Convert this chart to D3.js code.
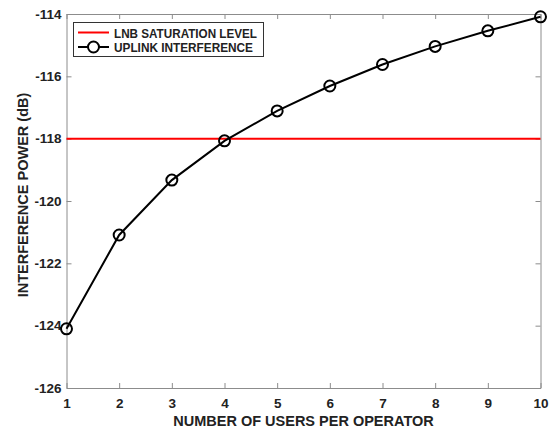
<!DOCTYPE html>
<html>
<head>
<meta charset="utf-8">
<script src="https://cdn.jsdelivr.net/npm/d3@7"></script>
<style>
  html, body { margin: 0; padding: 0; background: #fff; }
  svg { display: block; }
  text { font-family: "Liberation Sans", Arial, Helvetica, sans-serif; font-weight: bold; fill: #222; }
</style>
</head>
<body>
<svg id="chart" width="553" height="430"></svg>
<script>
// Users per operator and the resulting uplink interference (dB)
const users = [1, 2, 3, 4, 5, 6, 7, 8, 9, 10];
const interference = [-124.10, -121.09, -119.33, -118.07, -117.11, -116.31, -115.62, -115.04, -114.54, -114.09];
const saturationLevel = -118;
const xTicks = [1, 2, 3, 4, 5, 6, 7, 8, 9, 10];
const yTicks = [-126, -124, -122, -120, -118, -116, -114];
const legendLabels = ["LNB SATURATION LEVEL", "UPLINK INTERFERENCE"];

const margin = { left: 66.5, right: 12.5, top: 14, bottom: 42 };
const W = 553, H = 430;
const svg = d3.select("#chart");
const axisColor = "#8c8c8c";

const x = d3.scaleLinear().domain([1, 10]).range([margin.left, W - margin.right]);
const y = d3.scaleLinear().domain([-126, -114]).range([H - margin.bottom, margin.top]);

// Box with inward ticks on all four sides
const tickLen = 5;
function styleAxis(g) {
  g.select(".domain").attr("stroke", axisColor).attr("stroke-width", 1);
  g.selectAll(".tick line").attr("stroke", axisColor);
}
svg.append("g")
  .attr("transform", `translate(0,${y(-126)})`)
  .call(d3.axisBottom(x).tickValues(xTicks).tickSizeInner(-tickLen).tickSizeOuter(0).tickPadding(10))
  .call(styleAxis)
  .call(g => g.selectAll(".tick text").attr("font-size", 13.5).attr("fill", "#222").attr("font-family", null));
svg.append("g")
  .attr("transform", `translate(0,${y(-114)})`)
  .call(d3.axisTop(x).tickValues(xTicks).tickSizeInner(-tickLen).tickSizeOuter(0).tickFormat(""))
  .call(styleAxis);
svg.append("g")
  .attr("transform", `translate(${x(1)},0)`)
  .call(d3.axisLeft(y).tickValues(yTicks).tickSizeInner(-tickLen).tickSizeOuter(0).tickPadding(5)
        .tickFormat(d => d3.format("d")(d).replace("−", "-")))
  .call(styleAxis)
  .call(g => g.selectAll(".tick text").attr("font-size", 13.5).attr("fill", "#222").attr("font-family", null));
svg.append("g")
  .attr("transform", `translate(${x(10)},0)`)
  .call(d3.axisRight(y).tickValues(yTicks).tickSizeInner(-tickLen).tickSizeOuter(0).tickFormat(""))
  .call(styleAxis);
svg.selectAll(".domain").attr("stroke", axisColor);

// Saturation threshold
svg.append("line")
  .attr("x1", x(1)).attr("x2", x(10))
  .attr("y1", y(saturationLevel)).attr("y2", y(saturationLevel))
  .attr("stroke", "#ff0000").attr("stroke-width", 2);

// Interference curve with circle markers
const pts = users.map((u, i) => [u, interference[i]]);
svg.append("path")
  .datum(pts)
  .attr("fill", "none")
  .attr("stroke", "#000")
  .attr("stroke-width", 2)
  .attr("d", d3.line().x(d => x(d[0])).y(d => y(d[1])));
svg.selectAll("circle.mk")
  .data(pts)
  .enter().append("circle")
  .attr("class", "mk")
  .attr("cx", d => x(d[0])).attr("cy", d => y(d[1]))
  .attr("r", 5.5)
  .attr("fill", "none")
  .attr("stroke", "#000")
  .attr("stroke-width", 2);

// Axis titles
svg.append("text")
  .attr("x", (x(1) + x(10)) / 2).attr("y", 426)
  .attr("text-anchor", "middle")
  .attr("font-size", 14.5)
  .text("NUMBER OF USERS PER OPERATOR");
svg.append("text")
  .attr("transform", `translate(27.5,195) rotate(-90)`)
  .attr("text-anchor", "middle")
  .attr("font-size", 14.5)
  .text("INTERFERENCE POWER (dB)");

// Legend
const lg = svg.append("g");
lg.append("rect")
  .attr("x", 73.5).attr("y", 22.5).attr("width", 190).attr("height", 34)
  .attr("fill", "#fff").attr("stroke", "#333").attr("stroke-width", 1);
lg.append("line")
  .attr("x1", 78).attr("x2", 109).attr("y1", 32.5).attr("y2", 32.5)
  .attr("stroke", "#ff0000").attr("stroke-width", 2);
lg.append("line")
  .attr("x1", 78).attr("x2", 109).attr("y1", 47).attr("y2", 47)
  .attr("stroke", "#000").attr("stroke-width", 2);
lg.append("circle")
  .attr("cx", 93.5).attr("cy", 47).attr("r", 5.5)
  .attr("fill", "#fff").attr("stroke", "#000").attr("stroke-width", 2);
const legendWidths = [143, 139];
lg.selectAll("text.lbl")
  .data(legendLabels)
  .enter().append("text")
  .attr("class", "lbl")
  .attr("x", 114).attr("y", (d, i) => 37.5 + i * 14)
  .attr("font-size", 12.6)
  .attr("textLength", (d, i) => legendWidths[i])
  .attr("lengthAdjust", "spacingAndGlyphs")
  .text(d => d);
</script>
</body>
</html>
